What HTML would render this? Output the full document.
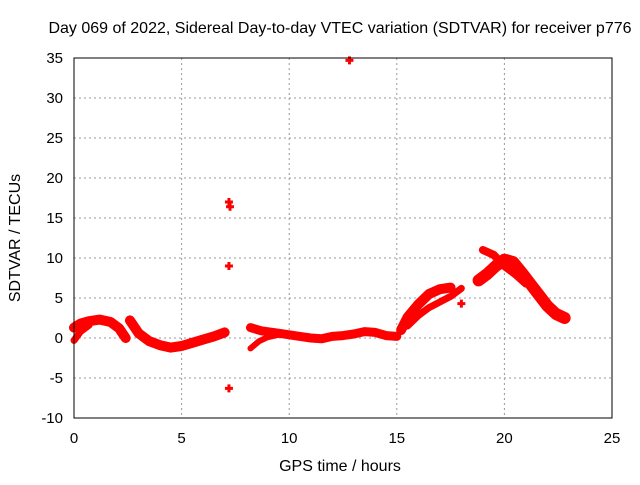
<!DOCTYPE html>
<html><head><meta charset="utf-8"><style>
body{margin:0;background:#fff}
text{font-family:"Liberation Sans",sans-serif;font-size:15px;fill:#000}
.big{font-size:16px}
</style></head><body>
<svg id="chart" width="640" height="480" xmlns="http://www.w3.org/2000/svg">
<rect width="640" height="480" fill="#fff"/>
<text class="big" x="340" y="33" text-anchor="middle">Day 069 of 2022, Sidereal Day-to-day VTEC variation (SDTVAR) for receiver p776</text>
<g id="grid"></g>
<g id="marks"></g>
<rect x="74" y="58" width="538" height="360" fill="none" stroke="#000" stroke-width="1"/>
<g id="ticks"></g>
<text class="big" x="340" y="471" text-anchor="middle">GPS time / hours</text>
<text class="big" transform="translate(20,238) rotate(-90)" text-anchor="middle">SDTVAR / TECUs</text>
</svg>
<script>
const xTicks=[0,5,10,15,20,25];
const yTicks=[-10,-5,0,5,10,15,20,25,30,35];
const sAh=[0,0.3,0.7,1.2,1.7,2.1,2.4];
const sAv=[1.3,1.8,2.1,2.3,2.0,1.2,0.0];
const sA2h=[0,0.3,0.7];
const sA2v=[-0.3,0.8,1.6];
const sBh=[2.6,3.0,3.5,4.0,4.5,5.0,5.5,6.0,6.5,7.0];
const sBv=[2.2,0.6,-0.4,-0.9,-1.2,-1.0,-0.6,-0.2,0.2,0.7];
const sCh=[8.2,8.7,9.5,10,10.5,11,11.5,12,12.5,13,13.5,14,14.5,15];
const sCv=[1.3,0.9,0.6,0.4,0.2,0.0,-0.1,0.2,0.3,0.5,0.8,0.7,0.3,0.2];
const sC2h=[8.2,8.6,9.0,9.5];
const sC2v=[-1.3,-0.4,0.1,0.4];
const sDh=[15.2,15.5,16.0,16.5,17.0,17.5];
const sDv=[1.0,2.6,4.2,5.5,6.1,6.3];
const sD2h=[15.5,16.0,16.5,17.0,17.5,18.0];
const sD2v=[1.5,2.8,3.8,4.5,5.2,6.2];
const sEh=[18.8,19.2,19.6,20.0,20.4,20.8,21.2,21.6,22.0,22.4,22.8];
const sEv=[7.2,8.0,9.0,9.8,9.5,8.2,6.8,5.4,4.0,3.0,2.5];
const sE2h=[19.0,19.5,20.0,20.5,21.0];
const sE2v=[11.0,10.4,9.0,8.0,6.8];
const outH=[7.2,7.25,7.2,7.2,12.8,18.0];
const outV=[17.0,16.4,9.0,-6.3,34.7,4.3];
const series=[[sAh,sAv,10],[sA2h,sA2v,7],[sBh,sBv,10],[sCh,sCv,9],[sC2h,sC2v,6],[sDh,sDv,10],[sD2h,sD2v,7],[sEh,sEv,12],[sE2h,sE2v,8]];
const X=h=>74+h/25*538, Y=v=>418-(v+10)/45*360;
const NS="http://www.w3.org/2000/svg";
const g=document.getElementById('grid'),t=document.getElementById('ticks'),m=document.getElementById('marks');
function mk(tag,a,p){const e=document.createElementNS(NS,tag);for(const k in a)e.setAttribute(k,a[k]);p.appendChild(e);return e;}
xTicks.forEach(v=>{
 if(v>0&&v<25){const l=mk('line',{x1:X(v),x2:X(v),y1:58,y2:418,stroke:'#999','stroke-dasharray':'2,3'},g);
 
 }
 const tl=mk('text',{x:X(v),y:443,'text-anchor':'middle'},t);tl.textContent=v;
 
 
});
yTicks.forEach(v=>{
 if(v>-10&&v<35){const l=mk('line',{x1:74,x2:612,y1:Y(v),y2:Y(v),stroke:'#999','stroke-dasharray':'2,3'},g);
 
 }
 const tl=mk('text',{x:63,y:Y(v)+5,'text-anchor':'end'},t);tl.textContent=v;
 
 
});
series.forEach(([hs,vs,w])=>{
 const p=mk('polyline',{points:hs.map((h,i)=>X(h)+','+Y(vs[i])).join(' '),fill:'none',stroke:'#f00','stroke-width':w,'stroke-linejoin':'round','stroke-linecap':'round'},m);
 
 
});
outH.forEach((h,i)=>{
 const c=mk('path',{d:`M${X(h)-4},${Y(outV[i])}h8M${X(h)},${Y(outV[i])-4}v8`,stroke:'#f00','stroke-width':3},m);
 
 
});
</script>
</body></html>
